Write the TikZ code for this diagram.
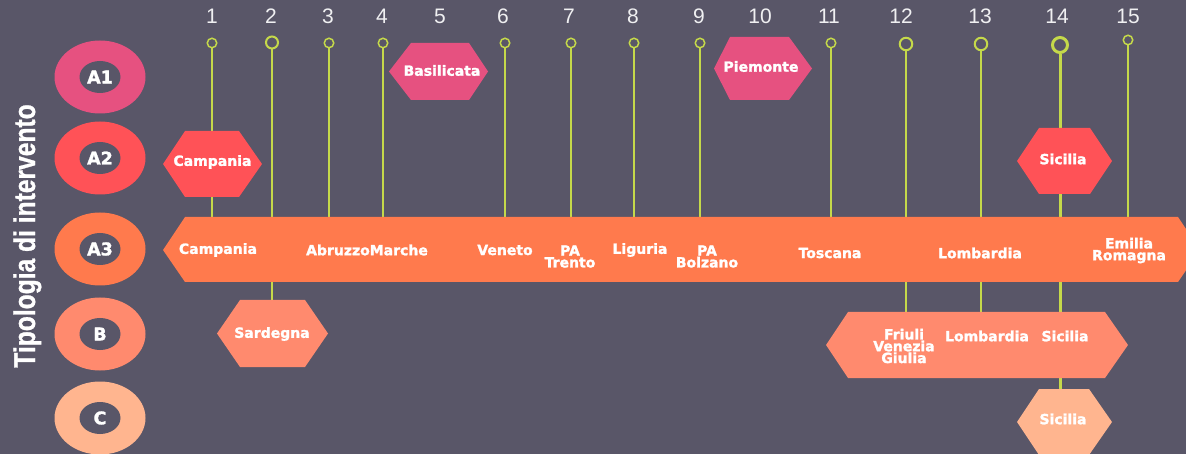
\documentclass[tikz,border=0pt]{standalone}
\usepackage{fontspec}
\setmainfont{Liberation Sans}[BoldFeatures={FakeBold=1}]
\newfontfamily\labfont{DejaVu Sans}[BoldFeatures={FakeBold=1.6}]
\definecolor{bg}{RGB}{89,86,104}
\definecolor{cAone}{RGB}{230,81,128}
\definecolor{cAtwo}{RGB}{255,82,87}
\definecolor{cAthree}{RGB}{255,122,77}
\definecolor{cB}{RGB}{255,138,110}
\definecolor{cC}{RGB}{255,181,143}
\definecolor{lime}{RGB}{197,217,74}
\definecolor{numgray}{RGB}{240,240,242}
\begin{document}
\begin{tikzpicture}[x=1pt,y=-1pt,
  lbl/.style={text=white, font=\labfont\bfseries\fontsize{14}{11.8}\selectfont, align=center, inner sep=0pt},
  ringlbl/.style={text=white, font=\labfont\bfseries\fontsize{17.5}{17.5}\selectfont, inner sep=0pt},
  num/.style={text=numgray, font=\fontsize{21}{21}\selectfont, inner sep=0pt, anchor=base},
  pin/.style={circle, draw=lime, fill=bg, line width=1.5pt, inner sep=0pt, minimum size=9.5pt},
  bigpin/.style={pin, line width=2pt, minimum size=12.5pt},
  stem/.style={draw=lime, line width=1.5pt},
  bigstem/.style={draw=lime, line width=2pt},
]
\fill[bg] (0,0) rectangle (1186,454);
\useasboundingbox (0,0) rectangle (1186,454);

% title
\node[rotate=90, anchor=base, text=white, font=\bfseries\fontsize{30}{30}\selectfont, inner sep=0pt]
  (title) at (35,236) {\scalebox{0.82}[1]{Tipologia di intervento}};

% rings
\foreach \nm/\yy/\col/\txt in {rA1/77/cAone/A1, rA2/158/cAtwo/A2, rA3/249/cAthree/A3, rB/334/cB/B, rC/418/cC/C}{
  \fill[\col] (100,\yy) ellipse [x radius=45.5, y radius=36.5];
  \fill[bg] (100,\yy) ellipse [x radius=20.5, y radius=16];
  \node[ringlbl] (\nm) at (100,\yy) {\txt};
}

% numbers
\foreach \i/\xx in {1/212,2/271,3/328,4/382,5/440,6/503,7/569,8/633,9/699,10/760,11/829,12/901,13/980,14/1057,15/1128}{
  \node[num] (n\i) at (\xx,24) {\i};
}

% pins
\node[pin] (p1) at (212,43) {};
\node[bigpin, minimum size=12pt] (p2) at (272,42.5) {};
\node[pin] (p3) at (329,43) {};
\node[pin] (p4) at (383,43) {};
\node[pin] (p6) at (505,43) {};
\node[pin] (p7) at (571,43) {};
\node[pin] (p8) at (634,43) {};
\node[pin] (p9) at (700,43) {};
\node[pin] (p11) at (831,43) {};
\node[bigpin] (p12) at (906,44) {};
\node[bigpin] (p13) at (981,44) {};
\node[pin, line width=3pt, minimum size=15pt] (p14) at (1060,45) {};
\node[pin] (p15) at (1128,40) {};

% stem end points
\coordinate (t1) at (212,217);
\coordinate (t2) at (272,300);
\coordinate (t3) at (329,217);
\coordinate (t4) at (383,217);
\coordinate (t6) at (505,217);
\coordinate (t7) at (571,217);
\coordinate (t8) at (634,217);
\coordinate (t9) at (700,217);
\coordinate (t11) at (831,217);
\coordinate (t12) at (906,312);
\coordinate (t13) at (981,312);
\coordinate (t14) at (1060,389);
\coordinate (t15) at (1128,217);

\foreach \i in {1,3,4,6,7,8,9,11,15}{ \draw[stem] (p\i.south) -- (t\i); }
\draw[bigstem] (p2.south) -- (t2);
\draw[bigstem] (p12.south) -- (t12);
\draw[bigstem] (p13.south) -- (t13);
\draw[draw=lime, line width=3pt] (p14.south) -- (t14);

% A1 hexagons
\fill[cAone] (389,71.5) -- (411,43) -- (469,43) -- (488,71.5) -- (469,100) -- (411,100) -- cycle;
\node[lbl] (basilicata) at (442,70.5) {Basilicata};
\fill[cAone] (714,68.5) -- (730,37) -- (789,37) -- (812,68.5) -- (789,100) -- (730,100) -- cycle;
\node[lbl] (piemonte) at (761,66.5) {Piemonte};

% A2 hexagons
\fill[cAtwo] (163,164) -- (185,131) -- (239,131) -- (262,164) -- (239,197) -- (185,197) -- cycle;
\node[lbl] (campaniaA2) at (212.5,162) {Campania};
\fill[cAtwo] (1017,161) -- (1039,128) -- (1090,128) -- (1112,161) -- (1090,194) -- (1039,194) -- cycle;
\node[lbl] (siciliaA2) at (1063,159) {Sicilia};

% A3 band
\fill[cAthree] (163,250) -- (185,217) -- (1178,217) -- (1200,250) -- (1178,282) -- (185,282) -- cycle;
\node[lbl] (campaniaA3) at (218,250) {Campania};
\node[lbl] (abruzzomarche) at (367,250) {AbruzzoMarche};
\node[lbl] (veneto) at (505,250) {Veneto};
\node[lbl] (trento) at (570,256.5) {PA\\Trento};
\node[lbl] (liguria) at (640,250) {Liguria};
\node[lbl] (bolzano) at (707,256.5) {PA\\Bolzano};
\node[lbl] (toscana) at (830,253) {Toscana};
\node[lbl] (lombardiaA3) at (980,253) {Lombardia};
\node[lbl] (emilia) at (1129,250.5) {Emilia\\Romagna};

% B shapes
\fill[cB] (217,333.5) -- (240,300) -- (305,300) -- (328,333.5) -- (305,367) -- (240,367) -- cycle;
\node[lbl] (sardegna) at (272,334) {Sardegna};
\fill[cB] (826,345) -- (848,312) -- (1105,312) -- (1128,345) -- (1105,378) -- (848,378) -- cycle;
\node[lbl] (friuli) at (904,346) {Friuli\\Venezia\\Giulia};
\node[lbl] (lombardiaB) at (987,336) {Lombardia};
\node[lbl] (siciliaB) at (1065,336) {Sicilia};

% C shape
\fill[cC] (1017,422) -- (1039,389) -- (1089,389) -- (1112,422) -- (1089,455) -- (1039,455) -- cycle;
\node[lbl] (siciliaC) at (1063,419) {Sicilia};
\end{tikzpicture}
\end{document}
